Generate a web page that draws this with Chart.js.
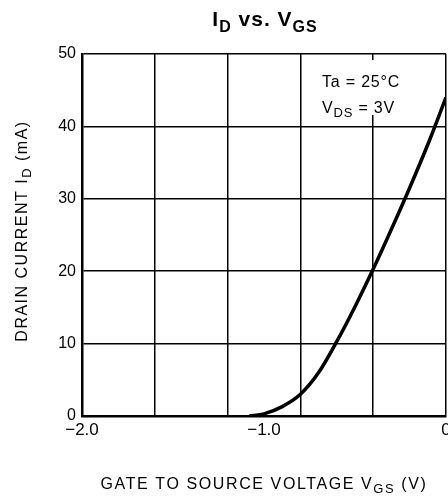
<!DOCTYPE html>
<html>
<head>
<meta charset="utf-8">
<script src="https://cdn.jsdelivr.net/npm/chart.js@4/dist/chart.umd.min.js"></script>
<style>
  html, body { margin: 0; padding: 0; background: #fff; }
  canvas { display: block; }
</style>
</head>
<body>
<canvas id="graphique-id" width="448" height="498"></canvas>
<script>
const vgs = [-1.08, -1.0, -0.9, -0.8, -0.7, -0.6, -0.5, -0.4, -0.3, -0.2, -0.1, 0];
const idMa = [0, 0.3, 1.3, 3.0, 6.0, 10.3, 15.1, 20.3, 25.8, 31.5, 37.5, 44];

// graduations de l'axe x (grille tous les 0.4 V, étiquettes à -2, -1, 0)
const xGrid = [-2, -1.6, -1.2, -1.0, -0.8, -0.4, 0];
const xLabelValues = [-2, -1, 0];
const xLabelText = ["\u22122.0", "\u22121.0", "0"];
const yMin = 0, yMax = 50, yStep = 10;

const police = "'Liberation Sans', Arial, sans-serif";

// écrit un texte avec indices (subscripts)
function texteIndice(ctx, parts, x, y, taille, tailleSub, gras, align, espace) {
    const poids = gras ? "bold " : "";
    ctx.letterSpacing = espace + "px";
    let largeur = 0;
    for (const p of parts) {
        ctx.font = poids + (p.sub ? tailleSub : taille) + "px " + police;
        largeur += ctx.measureText(p.t).width;
    }
    let cx = align === "center" ? x - largeur / 2 : x;
    ctx.textAlign = "left";
    ctx.textBaseline = "alphabetic";
    for (const p of parts) {
        ctx.font = poids + (p.sub ? tailleSub : taille) + "px " + police;
        ctx.fillText(p.t, cx, p.sub ? y + taille * 0.28 : y);
        cx += ctx.measureText(p.t).width;
    }
    ctx.letterSpacing = "0px";
}

const textes = {
    id: "textes",
    beforeDatasetsDraw(chart) {
        // fond blanc derrière les conditions de mesure
        const ctx = chart.ctx;
        ctx.save();
        ctx.fillStyle = "#fff";
        ctx.fillRect(317, 60, 92, 55);
        ctx.restore();
    },
    afterDraw(chart) {
        const ctx = chart.ctx;
        const area = chart.chartArea;
        ctx.save();
        ctx.fillStyle = "#000";

        // titre
        texteIndice(ctx, [{t: "I"}, {t: "D", sub: true}, {t: " vs. V"}, {t: "GS", sub: true}],
            (area.left + area.right) / 2 + 1, 26, 21, 16, true, "center", 1);

        // conditions
        texteIndice(ctx, [{t: "Ta = 25\u00b0C"}], 322, 87, 16, 13, false, "left", 0.8);
        texteIndice(ctx, [{t: "V"}, {t: "DS", sub: true}, {t: " = 3V"}], 322, 113, 16, 13, false, "left", 0.8);

        // titre axe x
        texteIndice(ctx, [{t: "GATE TO SOURCE VOLTAGE V"}, {t: "GS", sub: true}, {t: " (V)"}],
            (area.left + area.right) / 2, 489, 16, 13, false, "center", 1.6);

        // titre axe y (vertical)
        ctx.translate(27, 231);
        ctx.rotate(-Math.PI / 2);
        texteIndice(ctx, [{t: "DRAIN CURRENT I"}, {t: "D", sub: true}, {t: " (mA)"}],
            0, 0, 16, 13, false, "center", 1.5);
        ctx.restore();
    }
};

const data = {
    datasets: [{
        label: "ID",
        data: vgs.map((v, i) => ({x: v, y: idMa[i]})),
        borderColor: "#000",
        borderWidth: 3.5,
        pointRadius: 0,
        cubicInterpolationMode: "monotone",
        fill: false
    }]
};

const config = {
    type: "line",
    data: data,
    options: {
        responsive: false,
        animation: false,
        layout: { padding: { top: 54, right: 2, left: 0, bottom: 0 } },
        plugins: {
            legend: { display: false },
            tooltip: { enabled: false },
            title: { display: false }
        },
        scales: {
            x: {
                type: "linear",
                min: -2,
                max: 0,
                afterBuildTicks: scale => {
                    scale.ticks = xGrid.map(v => ({ value: v }));
                },
                afterFit: scale => {
                    scale.height = 82;
                    scale.paddingLeft = 0;
                    scale.paddingRight = 0;
                },
                grid: {
                    color: c => (c.tick && Math.abs(c.tick.value + 1) < 1e-6) ? "rgba(0,0,0,0)" : "#000",
                    lineWidth: 1.5,
                    drawTicks: false
                },
                border: { color: "#000", width: 2.5 },
                ticks: {
                    autoSkip: false,
                    maxRotation: 0,
                    padding: 4,
                    color: "#000",
                    font: { family: police, size: 17 },
                    callback: function (value) {
                        const k = xLabelValues.findIndex(v => Math.abs(v - value) < 1e-6);
                        return k >= 0 ? xLabelText[k] : "";
                    }
                }
            },
            y: {
                type: "linear",
                min: yMin,
                max: yMax,
                afterFit: scale => { scale.width = 82; },
                grid: { color: "#000", lineWidth: 1.5, drawTicks: false },
                border: { color: "#000", width: 2.5 },
                ticks: {
                    stepSize: yStep,
                    padding: 6,
                    color: "#000",
                    font: { family: police, size: 16 }
                }
            }
        }
    },
    plugins: [textes]
};

new Chart(document.querySelector("#graphique-id"), config);
</script>
</body>
</html>
